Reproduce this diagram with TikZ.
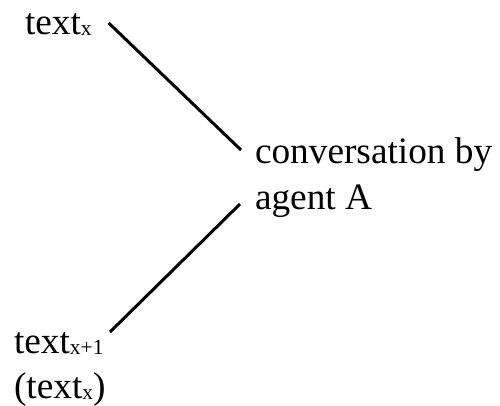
\documentclass[tikz,border=0pt]{standalone}
\usepackage{fontspec}
\setmainfont{Liberation Serif}
\usetikzlibrary{calc}
\newcommand\sbx[1]{\raisebox{-1pt}{\fontsize{21.5}{21.5}\selectfont #1}}
\begin{document}
\begin{tikzpicture}[x=1pt,y=-1pt,
  lbl/.style={inner sep=0pt, outer sep=0pt, font=\fontsize{37.3}{46}\selectfont, align=left},
  conn/.style={line width=3pt}]
\useasboundingbox (0,0) rectangle (500,406);
\node[lbl, anchor=base west] (tx) at (25,35) {text\sbx{x}};
\node[lbl, anchor=base west] (conv) at (255,209) {conversation by\\agent A};
\node[lbl, anchor=base west] (tn) at (14,398) {text\sbx{x+1}\\[-1pt](text\sbx{x})};
\draw[conn] ($(tx.base east)+(17,-12)$) -- ($(conv.base west)+(-14,-59)$);
\draw[conn] ($(conv.base west)+(-15,-5)$) -- ($(tn.base west)+(96,-66)$);
\end{tikzpicture}
\end{document}
